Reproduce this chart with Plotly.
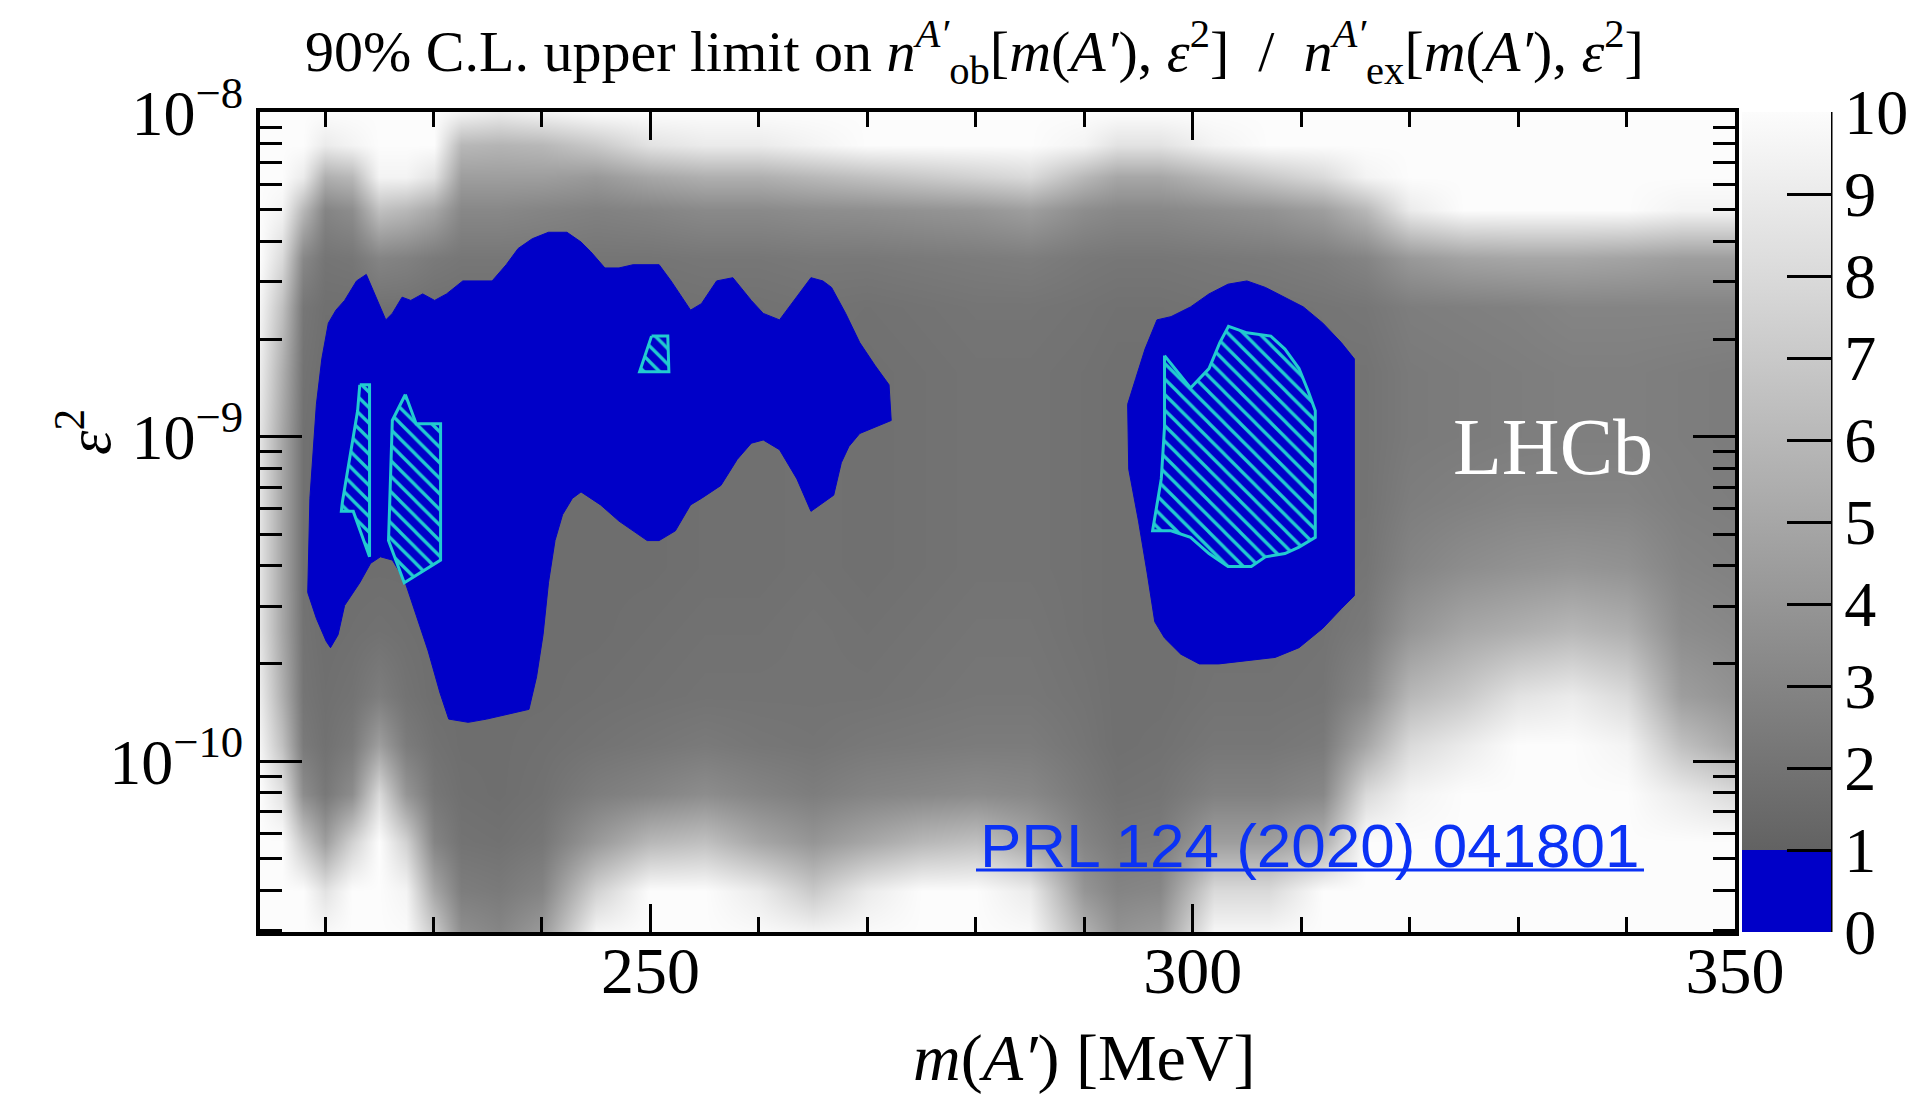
import numpy as np
import plotly.graph_objects as go

# ---------------- data ----------------
# heat-map nodes: dark-photon mass [MeV] and log10(eps^2)
mass_nodes = [214, 216, 218, 220, 222.5, 225, 227.5, 230, 232.5, 236, 240, 245, 250, 255,
              260, 265, 270, 275, 280, 285, 290, 293, 297, 302, 307, 312, 316, 320, 325,
              330, 335, 340, 345, 350]
log_eps2_nodes = [-10.55, -10.4, -10.25, -10.1, -9.95, -9.8, -9.6, -9.4, -9.2, -9.0,
                  -8.8, -8.6, -8.45, -8.3, -8.2, -8.1, -8.0]

# upper-limit ratio, one column (bottom -> top) per mass node
ratio_columns = [
    [10, 10, 10, 10, 9.5, 9, 8.5, 8.5, 8.5, 8.5, 9, 9.5, 10, 10, 10, 10, 10],          # 214
    [10, 10, 10, 8.5, 6.5, 5.5, 5, 5, 5, 5, 5.5, 6.5, 8, 9.5, 10, 10, 10],             # 216
    [10, 10, 7, 3.5, 2.4, 2.1, 2, 1.9, 1.9, 1.9, 2, 2.2, 3.2, 6, 9, 10, 10],           # 218
    [10, 8.5, 4.5, 2.3, 1.9, 1.8, 1.7, 1.7, 1.7, 1.7, 1.7, 1.8, 2.1, 3, 5.5, 9, 10],   # 220
    [10, 10, 7.5, 3.5, 2.4, 2, 1.8, 1.7, 1.7, 1.7, 1.7, 1.8, 2.2, 3.5, 6, 9.5, 10],    # 222.5
    [10, 10, 10, 8, 4.5, 2.6, 1.9, 1.7, 1.7, 1.7, 1.7, 1.9, 3, 6.5, 9.5, 10, 10],      # 225
    [10, 9.5, 7.5, 4, 2.5, 2, 1.8, 1.7, 1.7, 1.7, 1.7, 1.9, 2.8, 6, 9.5, 10, 10],      # 227.5
    [7.5, 5, 3, 2.2, 1.9, 1.7, 1.7, 1.7, 1.7, 1.7, 1.7, 1.8, 2.4, 5, 8.5, 10, 10],     # 230
    [3.8, 2.6, 2, 1.8, 1.7, 1.7, 1.7, 1.7, 1.7, 1.7, 1.7, 1.8, 2.2, 3.2, 4.5, 6, 9.5], # 232.5
    [3.2, 2.4, 1.9, 1.7, 1.7, 1.7, 1.7, 1.7, 1.7, 1.7, 1.7, 1.8, 2.2, 3.2, 4.5, 5.8, 9],  # 236
    [4.5, 3, 2.2, 1.9, 1.8, 1.7, 1.7, 1.7, 1.7, 1.7, 1.7, 1.8, 2.2, 3, 4.5, 6, 9.5],   # 240
    [10, 7.5, 4.2, 2.6, 2, 1.8, 1.7, 1.7, 1.7, 1.7, 1.7, 1.8, 2.1, 2.8, 4.2, 7, 10],   # 245
    [10, 10, 6, 3, 2.2, 1.9, 1.8, 1.7, 1.7, 1.7, 1.7, 1.8, 2.1, 3, 5, 8.5, 10],        # 250
    [10, 10, 6.5, 3.5, 2.4, 2, 1.9, 1.8, 1.8, 1.8, 1.8, 1.9, 2.2, 3.3, 5.5, 9, 10],    # 255
    [10, 9, 5, 3, 2.2, 2, 1.9, 1.8, 1.8, 1.8, 1.8, 1.9, 2.2, 3.3, 5.5, 9, 10],         # 260
    [10, 7, 4, 2.6, 2.1, 2, 2, 1.9, 1.9, 1.9, 1.9, 2, 2.3, 3.5, 6, 9.5, 10],           # 265
    [10, 9, 5, 3, 2.3, 2, 1.9, 1.8, 1.8, 1.8, 1.8, 1.9, 2.3, 3.6, 6.5, 10, 10],        # 270
    [10, 10, 6, 3.2, 2.4, 2.1, 2, 1.9, 1.9, 1.9, 1.9, 2, 2.4, 3.8, 7, 10, 10],         # 275
    [10, 10, 6.5, 3.4, 2.5, 2.2, 2.1, 2, 2, 2, 2, 2.1, 2.5, 4, 7.5, 10, 10],           # 280
    [10, 9, 5, 3.2, 2.5, 2.2, 2.1, 2, 2, 2, 2, 2.1, 2.6, 4.5, 8, 10, 10],              # 285
    [6, 4, 3, 2.4, 2.1, 2, 1.9, 1.9, 1.9, 1.9, 1.9, 2, 2.3, 3.5, 6, 9.5, 10],          # 290
    [4, 3, 2.4, 2, 1.8, 1.8, 1.8, 1.8, 1.8, 1.8, 1.8, 1.9, 2.2, 3.2, 5, 8.5, 10],      # 293
    [4.5, 3.2, 2.5, 2.1, 1.9, 1.8, 1.8, 1.8, 1.8, 1.8, 1.8, 1.9, 2.2, 3.2, 5, 8.5, 10],  # 297
    [10, 8, 4.5, 2.8, 2.2, 2, 1.9, 1.9, 1.9, 1.9, 1.9, 2, 2.3, 3.5, 6, 9.5, 10],       # 302
    [10, 8, 4.5, 2.8, 2.2, 2, 1.9, 1.9, 1.9, 1.9, 1.9, 2, 2.4, 3.8, 7, 10, 10],        # 307
    [10, 10, 5.5, 3.2, 2.4, 2.1, 2, 2, 2, 2, 2, 2.1, 2.6, 4.5, 8, 10, 10],             # 312
    [10, 10, 10, 8, 5, 3.2, 2.4, 2.1, 2, 2, 2, 2.2, 3, 6, 9.5, 10, 10],                # 316
    [10, 10, 10, 9.5, 8, 6, 4, 3, 2.6, 2.4, 2.4, 2.6, 4.2, 9, 10, 10, 10],             # 320
    [10, 10, 10, 10, 9, 7, 5, 3.5, 2.8, 2.5, 2.5, 2.7, 4.8, 10, 10, 10, 10],           # 325
    [10, 10, 10, 10, 10, 8.5, 5.5, 3.8, 3, 2.6, 2.6, 2.8, 5, 10, 10, 10, 10],          # 330
    [10, 10, 10, 10, 10, 9, 6, 4, 3, 2.7, 2.7, 3, 5, 10, 10, 10, 10],                  # 335
    [10, 10, 10, 10, 9.5, 8, 5.5, 3.8, 3, 2.7, 2.7, 3, 4.8, 10, 10, 10, 10],           # 340
    [10, 10, 10, 9, 6.5, 4.5, 3.5, 3, 2.7, 2.6, 2.6, 3, 4.5, 9.5, 10, 10, 10],         # 345
    [10, 10, 10, 8, 5, 3.8, 3.2, 2.8, 2.6, 2.5, 2.5, 3, 4.5, 9.5, 10, 10, 10],         # 350
]

# ratio < 1 regions (mass [MeV], log10 eps^2)
blue_left = [(218.4, -9.48), (218.6, -9.19), (219.2, -8.90), (219.7, -8.76), (220.3, -8.65),
             (221.0, -8.61), (221.8, -8.58), (222.9, -8.52), (223.8, -8.50), (224.7, -8.57),
             (225.6, -8.64), (226.2, -8.62), (227.1, -8.57), (227.9, -8.58), (229.0, -8.56),
             (230.1, -8.58), (231.2, -8.56), (232.7, -8.52), (234.3, -8.52), (235.4, -8.52),
             (236.7, -8.47), (237.8, -8.42), (239.1, -8.39), (240.6, -8.37), (242.3, -8.37),
             (243.6, -8.40), (244.5, -8.43), (245.8, -8.48), (247.1, -8.48), (248.4, -8.47),
             (250.8, -8.47), (251.9, -8.52), (253.7, -8.61), (254.7, -8.59), (256.1, -8.52),
             (257.6, -8.51), (259.3, -8.58), (260.4, -8.62), (261.9, -8.64), (263.5, -8.57),
             (264.8, -8.51), (265.9, -8.52), (266.7, -8.54), (268.0, -8.62), (269.3, -8.71),
             (270.7, -8.78), (272.0, -8.84), (272.2, -8.95), (270.7, -8.97), (269.3, -8.99),
             (268.3, -9.03), (267.6, -9.08), (266.9, -9.18), (266.1, -9.20), (264.8, -9.23),
             (263.5, -9.13), (261.9, -9.04), (260.4, -9.01), (259.3, -9.02), (258.0, -9.07),
             (256.5, -9.15), (254.7, -9.19), (253.7, -9.21), (252.3, -9.29), (250.8, -9.32),
             (249.7, -9.32), (248.4, -9.29), (247.1, -9.26), (245.4, -9.21), (243.6, -9.17),
             (242.8, -9.19), (241.9, -9.24), (241.2, -9.32), (240.6, -9.45), (240.1, -9.61),
             (239.5, -9.74), (238.8, -9.84), (237.5, -9.85), (236.2, -9.86), (234.9, -9.87),
             (233.2, -9.88), (231.4, -9.87), (230.6, -9.79), (229.5, -9.66), (228.4, -9.55),
             (227.3, -9.44), (226.2, -9.38), (225.1, -9.37), (224.2, -9.39), (223.2, -9.45),
             (221.8, -9.52), (221.2, -9.61), (220.5, -9.65), (220.1, -9.63), (219.2, -9.56)]

blue_right = [(296.7, -8.64), (298.0, -8.63), (299.8, -8.60), (301.5, -8.56), (303.25, -8.53),
              (305.0, -8.52), (306.7, -8.54), (308.5, -8.57), (310.2, -8.60), (312.0, -8.65),
              (313.7, -8.71), (314.9, -8.76), (314.9, -9.49), (313.7, -9.53), (312.0, -9.59),
              (309.8, -9.65), (307.6, -9.68), (305.0, -9.69), (302.4, -9.70), (300.6, -9.70),
              (298.9, -9.67), (297.4, -9.62), (296.5, -9.57), (295.8, -9.42), (295.0, -9.26),
              (294.1, -9.10), (294.0, -8.90), (294.75, -8.82), (295.6, -8.73)]

# hatched (cyan) regions
hatch_a = [(223.2, -8.84), (224.1, -8.84), (224.1, -9.37), (222.6, -9.23), (221.5, -9.23),
           (221.6, -9.20), (223.0, -8.92)]
hatch_b = [(227.4, -8.87), (228.4, -8.96), (230.65, -8.96), (230.65, -9.38), (227.3, -9.45),
           (225.85, -9.32), (226.2, -8.95)]
hatch_c = [(250.1, -8.69), (251.6, -8.69), (251.7, -8.80), (249.0, -8.80)]
hatch_d = [(297.4, -8.75), (299.8, -8.85), (301.5, -8.79), (302.5, -8.71), (303.3, -8.66),
           (305.0, -8.68), (307.2, -8.69), (308.5, -8.73), (309.8, -8.79), (310.65, -8.86),
           (311.3, -8.92), (311.3, -9.31), (309.8, -9.34), (308.5, -9.36), (306.7, -9.37),
           (305.4, -9.40), (303.25, -9.40), (301.5, -9.36), (299.8, -9.31), (298.0, -9.29),
           (296.3, -9.29), (297.1, -9.13), (297.4, -8.97)]

x_tick_labels = ["250", "300", "350"]
x_tick_values = [250, 300, 350]
y_tick_values = [1e-10, 1e-9, 1e-8]
y_tick_labels = ["10<sup>\u221210</sup>", "10<sup>\u22129</sup>", "10<sup>\u22128</sup>"]
cbar_ticks = list(range(0, 11))

# ---------------- styling ----------------
BLUE = "#0000c8"
CYAN = "#22cbd0"
SERIF = "Liberation Serif, Times New Roman, serif"
SANS = "Liberation Sans, Arial, sans-serif"

# plot area in pixels: x 260..1735, y 112..932
L, R, T, B = 260, 1735, 112, 932
PW, PH = R - L, B - T


def px(xp):
    return (xp - L) / PW


def py(yp):
    return (B - yp) / PH


fig = go.Figure()

z = np.array(ratio_columns, dtype=float).T
fig.add_trace(go.Heatmap(
    x=mass_nodes,
    y=[10.0 ** v for v in log_eps2_nodes],
    z=z, zmin=0, zmax=10, zsmooth="best",
    colorscale=[[0.0, BLUE], [0.1, BLUE], [0.1, "rgb(98,98,98)"], [1.0, "rgb(252,252,252)"]],
    hoverinfo="skip",
    colorbar=dict(
        xref="paper", x=px(1742), xanchor="left",
        yref="paper", y=0.5, yanchor="middle",
        lenmode="fraction", len=1.0, thicknessmode="pixels", thickness=89,
        xpad=0, ypad=0, outlinewidth=0,
        tickmode="array", tickvals=cbar_ticks, ticktext=[str(t) for t in cbar_ticks],
        ticks="inside", ticklen=44, tickwidth=3, tickcolor="black",
        tickfont=dict(family=SERIF, size=64, color="black"),
    ),
))


def add_region(points, hatched):
    xs = [p[0] for p in points] + [points[0][0]]
    ys = [10.0 ** p[1] for p in points] + [10.0 ** points[0][1]]
    if hatched:
        fig.add_trace(go.Scatter(
            x=xs, y=ys, mode="lines", fill="toself", fillcolor=BLUE,
            fillpattern=dict(shape="\\", fgcolor=CYAN, bgcolor=BLUE, size=11,
                             solidity=0.3, fillmode="replace"),
            line=dict(color=CYAN, width=3), hoverinfo="skip", showlegend=False))
    else:
        fig.add_trace(go.Scatter(
            x=xs, y=ys, mode="lines", fill="toself", fillcolor=BLUE,
            line=dict(color=BLUE, width=1), hoverinfo="skip", showlegend=False))


add_region(blue_left, False)
add_region(blue_right, False)
for poly in (hatch_a, hatch_b, hatch_c, hatch_d):
    add_region(poly, True)

minor_y = [k * 10.0 ** n for n in (-11, -10, -9) for k in range(2, 10)]
minor_y = [v for v in minor_y if 3e-11 <= v <= 1e-8]
minor_x = [220, 230, 240, 260, 270, 280, 290, 310, 320, 330, 340]

fig.update_layout(
    width=1921, height=1095,
    margin=dict(l=L, r=1921 - R, t=T, b=1095 - B, autoexpand=False),
    paper_bgcolor="white", plot_bgcolor="white",
    showlegend=False,
    xaxis=dict(
        range=[214, 350], showgrid=False, zeroline=False,
        showline=True, linewidth=4, linecolor="black", mirror="ticks",
        ticks="inside", tickvals=x_tick_values, ticktext=x_tick_labels,
        ticklen=28, tickwidth=3, tickcolor="black",
        tickfont=dict(family=SERIF, size=66, color="black"),
        ticklabelstandoff=-22,
        minor=dict(tickmode="array", tickvals=minor_x, ticks="inside", ticklen=15,
                   tickwidth=3, tickcolor="black", showgrid=False),
    ),
    yaxis=dict(
        type="log", range=[-10.526, -7.9995], showgrid=False, zeroline=False,
        showline=True, linewidth=4, linecolor="black", mirror="ticks",
        ticks="inside", tickvals=y_tick_values, ticktext=y_tick_labels,
        ticklen=42, tickwidth=3, tickcolor="black",
        tickfont=dict(family=SERIF, size=64, color="black"),
        minor=dict(tickmode="array", tickvals=minor_y, ticks="inside", ticklen=22,
                   tickwidth=3, tickcolor="black", showgrid=False),
    ),
)

# colour-bar axis line (right edge)
fig.add_shape(type="line", xref="paper", yref="paper",
              x0=px(1831), x1=px(1831), y0=0, y1=1,
              line=dict(color="black", width=3), layer="above")

title_txt = ("90% C.L. upper limit on <i>n</i><sup><i>A\u2032</i></sup><sub>ob</sub>"
             "[<i>m</i>(<i>A\u2032</i>), <i>\u03b5</i><sup>2</sup>]  /  "
             "<i>n</i><sup><i>A\u2032</i></sup><sub>ex</sub>"
             "[<i>m</i>(<i>A\u2032</i>), <i>\u03b5</i><sup>2</sup>]")
fig.add_annotation(text=title_txt, xref="paper", yref="paper", x=px(974), y=py(52),
                   showarrow=False, xanchor="center", yanchor="middle",
                   font=dict(family=SERIF, size=58, color="black"))
fig.add_annotation(text="<i>m</i>(<i>A\u2032</i>) [MeV]", xref="paper", yref="paper",
                   x=px(1084), y=py(1058), showarrow=False, xanchor="center", yanchor="middle",
                   font=dict(family=SERIF, size=66, color="black"))
fig.add_annotation(text="<i>\u03b5</i><sup>2</sup>", xref="paper", yref="paper",
                   x=px(84), y=py(432), showarrow=False, textangle=-90,
                   xanchor="center", yanchor="middle",
                   font=dict(family=SERIF, size=62, color="black"))
fig.add_annotation(text="LHCb", xref="paper", yref="paper", x=px(1553), y=py(447),
                   showarrow=False, xanchor="center", yanchor="middle",
                   font=dict(family=SERIF, size=80, color="white"))
fig.add_annotation(text="PRL 124 (2020) 041801", xref="paper", yref="paper",
                   x=px(1310), y=py(845), showarrow=False, xanchor="center", yanchor="middle",
                   font=dict(family=SANS, size=62, color="#0b32f5"))
fig.add_shape(type="line", xref="paper", yref="paper",
              x0=px(976), x1=px(1644), y0=py(870), y1=py(870),
              line=dict(color="#0b32f5", width=3))

fig.write_html("out.html")
